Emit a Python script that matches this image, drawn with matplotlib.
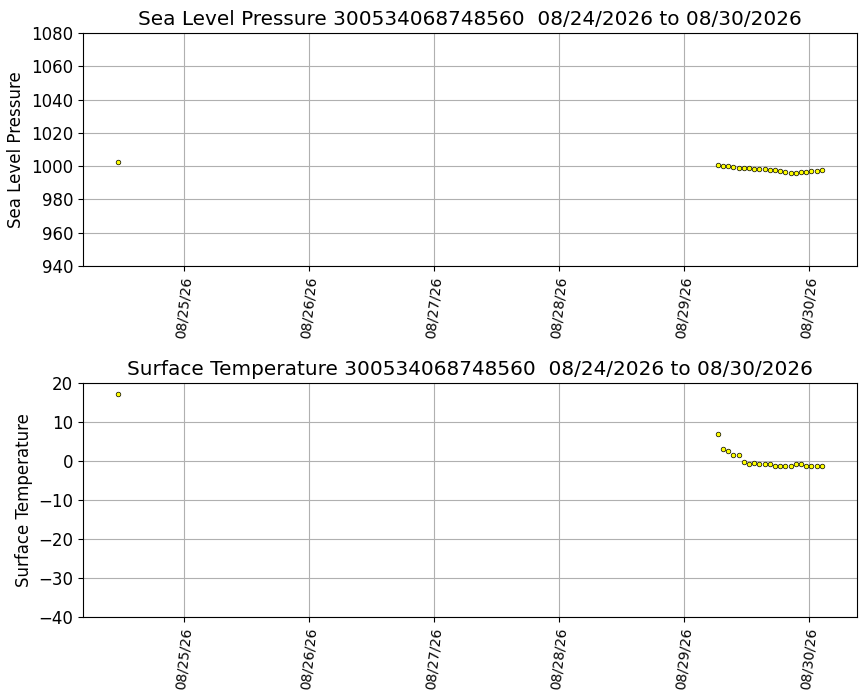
import matplotlib
matplotlib.use("Agg")
import matplotlib.pyplot as plt
import matplotlib.dates as mdates
import pandas as pd

times = ["2026-08-24 11:20",
         "2026-08-29 06:30", "2026-08-29 07:30", "2026-08-29 08:30", "2026-08-29 09:30",
         "2026-08-29 10:30", "2026-08-29 11:30", "2026-08-29 12:30", "2026-08-29 13:30",
         "2026-08-29 14:30", "2026-08-29 15:30", "2026-08-29 16:30", "2026-08-29 17:30",
         "2026-08-29 18:30", "2026-08-29 19:30", "2026-08-29 20:30", "2026-08-29 21:30",
         "2026-08-29 22:30", "2026-08-29 23:30", "2026-08-30 00:30", "2026-08-30 01:30",
         "2026-08-30 02:30"]
slp = [1002.6, 1000.5, 1000.1, 1000.0, 999.7, 999.1, 998.7, 998.7, 998.3, 998.3, 998.3,
       997.5, 997.5, 996.9, 996.3, 995.7, 995.7, 996.3, 996.3, 996.9, 996.9, 997.5]
temp = [17.2, 7.0, 3.1, 2.6, 1.45, 1.45, -0.15, -0.66, -0.4, -0.66, -0.9, -0.9,
        -1.2, -1.4, -1.2, -1.2, -0.66, -0.9, -1.2, -1.2, -1.2, -1.4]

buoy = "300534068748560"
date_range = "08/24/2026 to 08/30/2026"
t = pd.to_datetime(times)

fig = plt.figure(figsize=(8.67, 7.0), dpi=100)
ax1 = fig.add_axes([0.0957, 0.62, 0.8928, 0.3329])
ax2 = fig.add_axes([0.0957, 0.1186, 0.8928, 0.3343])

panels = [
    (ax1, slp, "Sea Level Pressure", (940, 1080), range(940, 1081, 20)),
    (ax2, temp, "Surface Temperature", (-40, 20), range(-40, 21, 10)),
]
for ax, vals, name, ylim, yt in panels:
    ax.scatter(t, vals, s=11, c="yellow", edgecolors="black", linewidths=0.5, zorder=3)
    ax.set_ylim(*ylim)
    ax.set_yticks(list(yt))
    ax.set_title(f"{name} {buoy}  {date_range}", fontsize=14.4)
    ax.set_ylabel(name, fontsize=12)
    ax.tick_params(axis="y", labelsize=12)
    ax.tick_params(axis="x", labelsize=10, labelrotation=84)
    ax.xaxis.set_major_locator(mdates.DayLocator())
    ax.xaxis.set_major_formatter(mdates.DateFormatter("%m/%d/%y"))
    ax.grid(True, color="#b0b0b0")
    ax.set_axisbelow(True)

fig.savefig("out.png", dpi=100)
